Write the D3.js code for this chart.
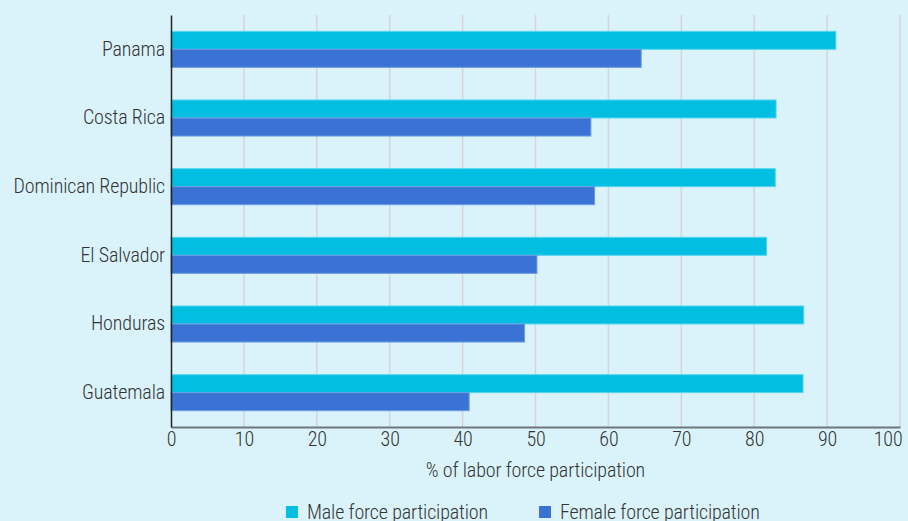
<!DOCTYPE html>
<html>
<head>
<meta charset="utf-8">
<script src="https://cdn.jsdelivr.net/npm/d3@7"></script>
<style>
  html, body { margin: 0; padding: 0; background: #daf3fa; }
  svg { display: block; }
  text { font-family: "Roboto Condensed", Roboto, sans-serif; font-stretch: condensed; font-weight: 300; fill: #333; letter-spacing: -0.14px; }
</style>
</head>
<body>
<svg id="chart" width="908" height="521"></svg>
<script>
const categories = ["Panama", "Costa Rica", "Dominican Republic", "El Salvador", "Honduras", "Guatemala"];
const maleValues = [91.2, 83.0, 82.9, 81.7, 86.8, 86.7];
const femaleValues = [64.5, 57.6, 58.1, 50.2, 48.5, 40.9];
const seriesNames = ["Male force participation", "Female force participation"];
const seriesColors = ["#02bfe2", "#3a73d3"];
const seriesStrokes = ["#5cd6ef", "#6d9be6"];
const xTicks = [0, 10, 20, 30, 40, 50, 60, 70, 80, 90, 100];
const xTitle = "% of labor force participation";

const W = 908, H = 521;
const m = { left: 171, right: 8, top: 15, bottom: 94 };
const FS = 20;
const svg = d3.select("#chart");
svg.append("rect").attr("width", W).attr("height", H).attr("fill", "#daf3fa");

const x = d3.scaleLinear().domain([0, 100]).range([m.left, W - m.right]);
const y = d3.scaleBand().domain(categories).range([m.top, H - m.bottom])
  .paddingInner(0.475).paddingOuter(0.2375);
const sub = d3.scaleBand().domain([0, 1]).range([0, y.bandwidth()]);

// gridlines
svg.append("g").selectAll("line").data(xTicks.slice(1)).join("line")
  .attr("x1", d => x(d)).attr("x2", d => x(d))
  .attr("y1", m.top).attr("y2", H - m.bottom)
  .attr("stroke", "#d2d6d8").attr("stroke-width", 1.5);

const data = categories.map((c, i) => ({ c, v: [maleValues[i], femaleValues[i]] }));
const g = svg.append("g");
data.forEach(d => {
  d.v.forEach((v, k) => {
    g.append("rect")
      .attr("x", x(0)).attr("y", y(d.c) + sub(k))
      .attr("width", x(v) - x(0)).attr("height", sub.bandwidth())
      .attr("fill", seriesColors[k])
      .attr("stroke", seriesStrokes[k]).attr("stroke-width", 1);
  });
});

// x axis
const xAxis = svg.append("g").attr("transform", `translate(0,${H - m.bottom})`)
  .call(d3.axisBottom(x).tickValues(xTicks).tickSize(0).tickPadding(5).tickFormat(d3.format("d")));
xAxis.select(".domain").attr("stroke", "#6f767a").attr("stroke-width", 2);
xAxis.selectAll("text").attr("font-size", FS).attr("fill", "#333");
xAxis.selectAll(".tick").filter(d => d === 100).select("text")
  .attr("text-anchor", "end").attr("x", 2);

// y axis
const yAxis = svg.append("g").attr("transform", `translate(${m.left},0)`)
  .call(d3.axisLeft(y).tickSize(0).tickPadding(6));
yAxis.select(".domain").attr("stroke", "#222").attr("stroke-width", 1.5);
yAxis.selectAll("text").attr("font-size", FS).attr("fill", "#333");

// axis title
svg.append("text").attr("x", (x(0) + x(100)) / 2).attr("y", 477)
  .attr("text-anchor", "middle").attr("font-size", FS).text(xTitle);

// legend
const legendX = [286, 539];
const lg = svg.append("g");
seriesNames.forEach((n, k) => {
  lg.append("rect").attr("x", legendX[k]).attr("y", 506).attr("width", 12).attr("height", 12)
    .attr("fill", seriesColors[k]);
  lg.append("text").attr("x", legendX[k] + 21).attr("y", 518.5)
    .attr("font-size", FS).text(n);
});
</script>
</body>
</html>
